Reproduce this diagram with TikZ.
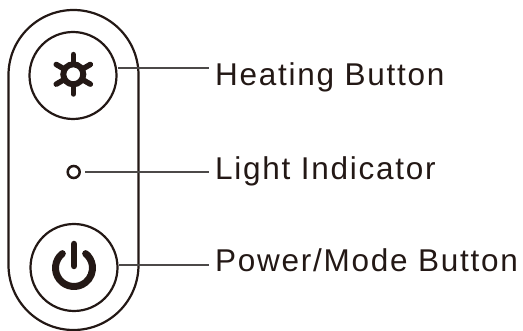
\documentclass[tikz,border=0pt]{standalone}
\usepackage{fontspec}
\setmainfont{Liberation Sans}
\definecolor{ink}{HTML}{231815}
\definecolor{leader}{HTML}{4C4948}
\tikzset{
  outline/.style={draw=ink,line width=2.2pt},
  leaderline/.style={draw=leader,line width=1.1pt},
  btn/.style={circle,outline,minimum size=87pt,inner sep=0pt},
  lbl/.style={anchor=base west,inner sep=0pt,text=ink,font=\fontsize{31.5}{32}\selectfont\addfontfeatures{LetterSpace=5.5}}
}
\begin{document}
\begin{tikzpicture}[x=1pt,y=-1pt]
\useasboundingbox (0,0) rectangle (523,331);
\draw[outline] (8.5,75) arc[start angle=180,end angle=0,x radius=65,y radius=-65] -- (138.5,265) arc[start angle=0,end angle=-180,x radius=65,y radius=-65] -- cycle;
\node[btn] (heat) at (73,75.5) {};
\node[btn] (power) at (74,267.5) {};
\node[circle,draw=ink,line width=2.5pt,minimum size=12pt,inner sep=0pt] (led) at (73.7,172) {};
% gear icon
\foreach \a in {0,60,...,300}
  \draw[ink,line width=5.5pt,line cap=round] (73.3,74.3) -- ++(90+\a:19.7);
\draw[ink,line width=6pt,fill=white] (73.3,74.3) circle[radius=10];
% power icon
\draw[ink,line width=7pt,line cap=round] (74,268) ++(231:18.5) arc[start angle=231,end angle=-51,radius=18.5];
\draw[ink,line width=6.5pt,line cap=round] (74,244) -- (74,266);
\node[lbl] (lh) at (215,85.7) {Heating Button};
\node[lbl] (ll) at (215,179.3) {Light Indicator};
\node[lbl] (lp) at (215,271.7) {Power/Mode Button};
\coordinate (h1) at (118,68); \coordinate (h2) at (209,68);
\coordinate (l1) at (85,172); \coordinate (l2) at (209,172);
\coordinate (p1) at (119,265); \coordinate (p2) at (209,265);
\draw[leaderline] (h1) -- (h2);
\draw[leaderline] (l1) -- (l2);
\draw[leaderline] (p1) -- (p2);
\end{tikzpicture}
\end{document}
